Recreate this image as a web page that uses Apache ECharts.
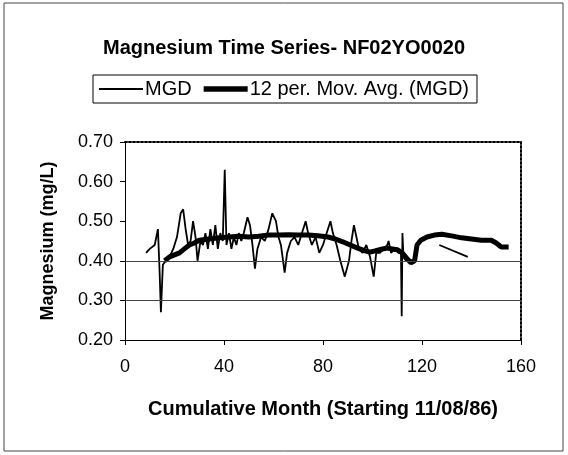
<!DOCTYPE html>
<html>
<head>
<meta charset="utf-8">
<script src="https://cdn.jsdelivr.net/npm/echarts@6/dist/echarts.min.js"></script>
<style>
html,body{margin:0;padding:0;background:#fff;}
#chart{width:568px;height:455px;}
</style>
</head>
<body>
<div id="chart"></div>
<script>
// ---- data ----
var titleText = 'Magnesium Time Series- NF02YO0020';
var xAxisName = 'Cumulative Month (Starting 11/08/86)';
var yAxisName = 'Magnesium (mg/L)';
var seriesNames = ['MGD', '12 per. Mov. Avg. (MGD)'];
var xTicks = [0, 40, 80, 120, 160];
var yTicks = [0.20, 0.30, 0.40, 0.50, 0.60, 0.70];
var gridValues = [0.30, 0.40];

var mgdMonths = [8.5, 10, 12, 13.3, 14, 14.5, 15.3, 16.5, 18, 19.5, 21, 22.5, 23.5, 24.5, 25.5, 26.5, 27.5, 28.5, 29.3, 30.5,
  31.5, 32.5, 33.5, 34.5, 35.5, 36.5, 37.5, 38.5, 39.5, 40.3, 41, 42, 43, 44, 45, 46, 47, 48, 49.5, 50.5,
  51.5, 52.5, 53.5, 55, 56.5, 58, 59.5, 61, 62, 63, 64.5, 65.5, 67, 68.5, 70, 71.5, 73, 74, 75.5, 77,
  78.5, 80, 81.5, 83, 84, 85.5, 87, 88.8, 90.5, 91.5, 92.5, 93.5, 94.5, 96, 97.5, 99, 100.5, 101.5, 103, 104.5,
  106, 106.5, 107.5, 109, 110.5, 111.5, 111.8, 112.1, 112.5, 113.5, null, 127, 138.5];
var mgdValues = [0.42, 0.43, 0.44, 0.48, 0.37, 0.27, 0.39, 0.40, 0.41, 0.43, 0.46, 0.52, 0.53, 0.48, 0.44, 0.45, 0.50, 0.46, 0.40, 0.45,
  0.44, 0.47, 0.43, 0.48, 0.44, 0.49, 0.43, 0.47, 0.45, 0.63, 0.44, 0.47, 0.43, 0.46, 0.44, 0.47, 0.45, 0.47, 0.51, 0.49,
  0.44, 0.38, 0.43, 0.46, 0.45, 0.48, 0.52, 0.50, 0.46, 0.44, 0.37, 0.42, 0.45, 0.46, 0.44, 0.47, 0.50, 0.47, 0.44, 0.46,
  0.42, 0.44, 0.47, 0.50, 0.47, 0.44, 0.40, 0.36, 0.40, 0.45, 0.49, 0.46, 0.43, 0.42, 0.44, 0.41, 0.36, 0.42, 0.42, 0.43,
  0.44, 0.45, 0.42, 0.43, 0.42, 0.42, 0.26, 0.47, 0.41, 0.40, null, 0.44, 0.41];

var maMonths = [16, 18, 20, 22, 24, 26, 28, 30, 34, 38, 42, 46, 50, 54, 58, 62, 66, 70, 74, 78,
  82, 85, 88, 91, 94, 97, 99, 101, 104, 106, 108, 110, 112, 114, 115.5, 117, 118, 119.5, 122, 125,
  128, 132, 136, 140, 144, 148, 150, 152, 155];
var maValues = [0.40, 0.41, 0.415, 0.42, 0.43, 0.44, 0.445, 0.452, 0.455, 0.458, 0.46, 0.462, 0.46, 0.462, 0.465, 0.465, 0.466, 0.465, 0.465, 0.463,
  0.46, 0.455, 0.448, 0.44, 0.432, 0.425, 0.422, 0.425, 0.43, 0.432, 0.43, 0.428, 0.42, 0.405, 0.395, 0.40, 0.44, 0.452, 0.46, 0.465,
  0.467, 0.463, 0.458, 0.455, 0.452, 0.452, 0.445, 0.435, 0.435];

function pairs(xs, ys) {
  return xs.map(function (x, i) { return x === null ? [null, null] : [x, ys[i]]; });
}

var FONT = 'Liberation Sans, Arial, sans-serif';
var chart = echarts.init(document.getElementById('chart'));
chart.setOption({
  backgroundColor: '#fff',
  animation: false,
  title: {
    text: titleText, left: 'center', top: 33,
    textStyle: { fontFamily: FONT, fontWeight: 'bold', fontSize: 20, color: '#000' }
  },
  legend: {
    data: [
      { name: seriesNames[0], icon: 'path://M0,0H40V1.6H0Z' },
      { name: seriesNames[1], icon: 'path://M0,0H40V5H0Z' }
    ],
    top: 75, left: 'center',
    borderColor: '#000', borderWidth: 1, padding: [4, 8, 4, 6],
    itemWidth: 44, itemHeight: 12, itemGap: 12,
    textStyle: { fontFamily: FONT, fontSize: 20, color: '#000', padding: [0, 0, 0, -3] }
  },
  grid: { left: 125, right: 47, top: 142, bottom: 115, containLabel: false },
  graphic: [{
    type: 'rect', shape: { x: 4, y: 3, width: 559, height: 448 },
    style: { fill: 'none', stroke: '#444', lineWidth: 1 }, silent: true
  }],
  xAxis: [{
    type: 'value', min: xTicks[0], max: xTicks[xTicks.length - 1], interval: 40,
    name: xAxisName, nameLocation: 'middle', nameGap: 59,
    nameTextStyle: { fontFamily: FONT, fontWeight: 'bold', fontSize: 20, color: '#000' },
    axisLine: { show: true, onZero: false, lineStyle: { color: '#000', width: 1 } },
    axisTick: { show: true, inside: false, length: 5, lineStyle: { color: '#000' } },
    axisLabel: { fontFamily: FONT, fontSize: 18, color: '#000', margin: 18 },
    splitLine: { show: false }
  }, {
    type: 'value', position: 'top', min: xTicks[0], max: xTicks[xTicks.length - 1],
    axisLine: { show: true, onZero: false, lineStyle: { color: '#000', width: 2, type: [2, 2] } },
    axisTick: { show: false }, axisLabel: { show: false }, splitLine: { show: false }
  }],
  yAxis: [{
    type: 'value', min: yTicks[0], max: yTicks[yTicks.length - 1], interval: 0.1,
    name: yAxisName, nameLocation: 'middle', nameGap: 68,
    nameTextStyle: { fontFamily: FONT, fontWeight: 'bold', fontSize: 18, color: '#000' },
    axisLine: { show: true, onZero: false, lineStyle: { color: '#000', width: 1 } },
    axisTick: { show: true, inside: false, length: 5, lineStyle: { color: '#000' } },
    axisLabel: { fontFamily: FONT, fontSize: 18, color: '#000', margin: 12,
      formatter: function (v) { return v.toFixed(2); } },
    splitLine: { show: false }
  }, {
    type: 'value', position: 'right', min: yTicks[0], max: yTicks[yTicks.length - 1],
    axisLine: { show: true, onZero: false, lineStyle: { color: '#000', width: 2, type: [2, 2] } },
    axisTick: { show: false }, axisLabel: { show: false }, splitLine: { show: false }
  }],
  series: [{
    name: seriesNames[0], type: 'line', data: pairs(mgdMonths, mgdValues),
    showSymbol: false, symbol: 'none', connectNulls: false,
    lineStyle: { color: '#000', width: 1.8 }, itemStyle: { color: '#000' },
    markLine: {
      silent: true, symbol: 'none', label: { show: false },
      lineStyle: { color: '#444', width: 1, type: 'solid' },
      data: gridValues.map(function (v) { return { yAxis: v }; })
    },
    z: 3
  }, {
    name: seriesNames[1], type: 'line', data: pairs(maMonths, maValues),
    showSymbol: false, symbol: 'none',
    lineStyle: { color: '#000', width: 5 }, itemStyle: { color: '#000' },
    z: 2
  }]
});
</script>
</body>
</html>
